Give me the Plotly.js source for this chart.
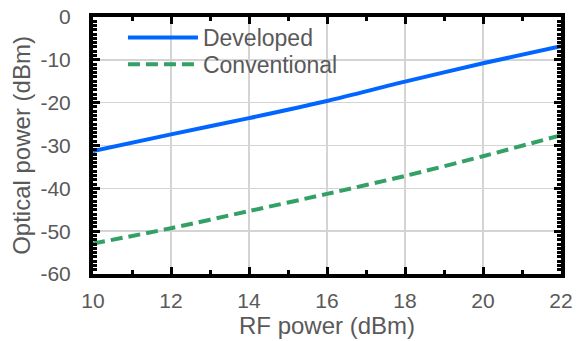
<!DOCTYPE html>
<html>
<head>
<meta charset="utf-8">
<script src="https://cdn.plot.ly/plotly-3.0.1.min.js"></script>
<style>html,body{margin:0;padding:0;background:#fff;}#chart{width:588px;height:341px;}</style>
</head>
<body>
<div id="chart"></div>
<script>
var rfPower = [10, 12, 14, 16, 18, 20, 22];
var developed = [-31.3, -27.4, -23.6, -19.6, -15.1, -10.8, -6.8];
var conventional = [-52.9, -49.3, -45.3, -41.3, -37.1, -32.5, -27.6];
var seriesNames = ['Developed', 'Conventional'];
var xTickVals = [10, 12, 14, 16, 18, 20, 22];
var xTickText = ['10', '12', '14', '16', '18', '20', '22'];
var yTickVals = [-60, -50, -40, -30, -20, -10, 0];
var yTickText = ['-60', '-50', '-40', '-30', '-20', '-10', '0'];
var xTitle = 'RF power (dBm)';
var yTitle = 'Optical power (dBm)';

var gray = '#595959';
var font = 'Liberation Sans, Arial, sans-serif';

var traces = [
  {x: rfPower, y: developed, name: seriesNames[0], mode: 'lines', legend: 'legend',
   line: {color: '#0066ff', width: 4, shape: 'spline', smoothing: 0.8}},
  {x: rfPower, y: conventional, name: seriesNames[1], mode: 'lines', legend: 'legend2',
   line: {color: '#33a065', width: 4, dash: '12px,6px', shape: 'spline', smoothing: 0.8}}
];

var axisCommon = {
  showline: true, linecolor: '#000', linewidth: 4, mirror: 'ticks',
  ticks: 'inside', ticklen: 7, tickwidth: 3, tickcolor: '#000',
  showgrid: true, gridcolor: '#d4d4d4', gridwidth: 1.5,
  zeroline: false, tickmode: 'array',
  tickfont: {family: font, size: 21, color: gray}
};

var legendCommon = {xanchor: 'left', yanchor: 'middle', bgcolor: 'rgba(0,0,0,0)', borderwidth: 0,
  font: {family: font, size: 23, color: gray}, itemwidth: 70};

var layout = {
  width: 588, height: 341,
  margin: {l: 93, r: 27, t: 17, b: 67},
  paper_bgcolor: '#fff', plot_bgcolor: '#fff',
  showlegend: true,
  legend: Object.assign({}, legendCommon, {x: 0.064, y: 0.92}),
  legend2: Object.assign({}, legendCommon, {x: 0.064, y: 0.816}),
  shapes: [{type: 'rect', xref: 'paper', yref: 'paper', x0: 0, x1: 0.588, y0: 0.759, y1: 1,
            fillcolor: '#fff', line: {width: 0}, layer: 'between'}],
  xaxis: Object.assign({}, axisCommon, {
    range: [10, 22], tickvals: xTickVals, ticktext: xTickText, ticklabelstandoff: 5,
    minor: {dtick: 1, ticks: 'inside', ticklen: 4, tickwidth: 3, tickcolor: '#000', showgrid: false},
    title: {text: xTitle, font: {family: font, size: 24, color: gray}, standoff: 6}
  }),
  yaxis: Object.assign({}, axisCommon, {
    range: [-60, 0], tickvals: yTickVals, ticktext: yTickText, ticklabelstandoff: 14,
    minor: {dtick: 1, ticks: 'inside', ticklen: 4, tickwidth: 3, tickcolor: '#000', showgrid: false},
    title: {text: yTitle, font: {family: font, size: 24, color: gray}, standoff: 4}
  })
};

Plotly.newPlot('chart', traces, layout, {staticPlot: true});
</script>
</body>
</html>
